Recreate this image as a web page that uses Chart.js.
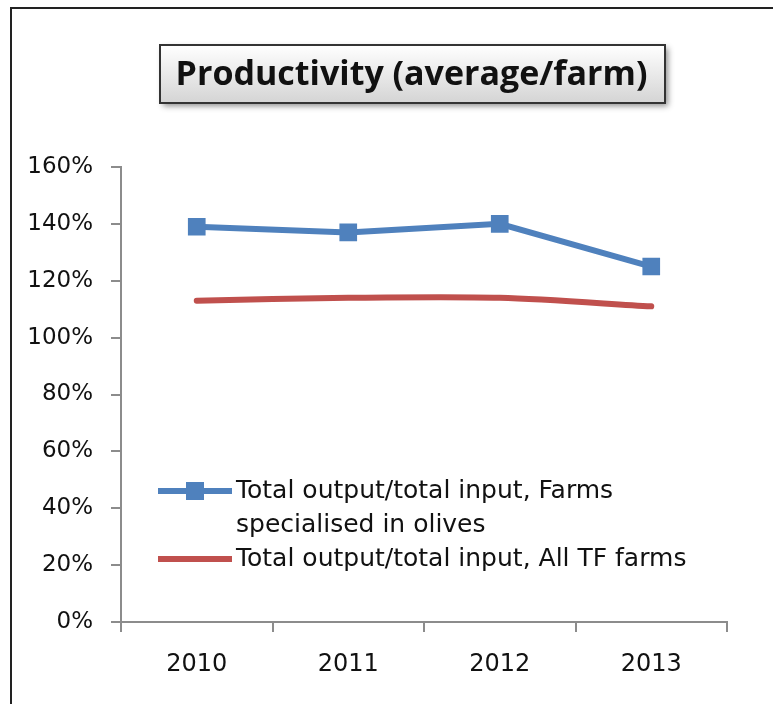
<!DOCTYPE html>
<html><head><meta charset="utf-8">
<script src="https://cdn.jsdelivr.net/npm/chart.js@4"></script>
<style>html,body{margin:0;padding:0;background:#fff}#wrap{position:relative;width:773px;height:704px}</style>
</head><body><div id="wrap"><canvas id="c" width="773" height="704"></canvas></div>
<script>
const categories = ['2010', '2011', '2012', '2013'];
const olivesValues = [139, 137, 140, 125];
const allTFValues = [113, 114, 114, 111];
const seriesLabels = ['Total output/total input, Farms specialised in olives', 'Total output/total input, All TF farms'];
const legendLines = [['Total output/total input, Farms', 'specialised in olives'], ['Total output/total input, All TF farms']];
const yTickValues = [0, 20, 40, 60, 80, 100, 120, 140, 160];
const chartTitle = 'Productivity (average/farm)';

const BLUE = '#4F81BD', RED = '#C0504D', AXIS = '#8C8C8C';
const FONT = '"DejaVu Sans", sans-serif';
const TITLE_FONT = '"Open Sans", sans-serif';

const decor = {
  id: 'decor',
  beforeDraw(chart) {
    const ctx = chart.ctx;
    ctx.save();
    ctx.fillStyle = '#fff';
    ctx.fillRect(0, 0, chart.width, chart.height);
    ctx.strokeStyle = '#222';
    ctx.lineWidth = 2;
    ctx.beginPath();
    ctx.moveTo(11, chart.height);
    ctx.lineTo(11, 8);
    ctx.lineTo(chart.width, 8);
    ctx.stroke();
    const bx = 160, by = 45, bw = 505, bh = 58;
    ctx.shadowColor = 'rgba(0,0,0,0.45)';
    ctx.shadowBlur = 6;
    ctx.shadowOffsetX = 3;
    ctx.shadowOffsetY = 3;
    const g = ctx.createLinearGradient(0, by, 0, by + bh);
    g.addColorStop(0, '#ffffff');
    g.addColorStop(1, '#d4d4d4');
    ctx.fillStyle = g;
    ctx.fillRect(bx, by, bw, bh);
    ctx.shadowColor = 'transparent';
    ctx.strokeStyle = '#333';
    ctx.lineWidth = 2;
    ctx.strokeRect(bx, by, bw, bh);
    ctx.fillStyle = '#111';
    ctx.font = 'bold 34px ' + TITLE_FONT;
    ctx.textAlign = 'center';
    ctx.textBaseline = 'middle';
    ctx.fillText(chartTitle, bx + bw / 2 - 1, by + bh / 2 + 1);
    ctx.restore();
  },
  afterDatasetsDraw(chart) {
    const ctx = chart.ctx;
    ctx.save();
    const items = [
      {y: 491, color: BLUE, marker: true, lines: legendLines[0]},
      {y: 559, color: RED, marker: false, lines: legendLines[1]}
    ];
    ctx.font = '25px ' + FONT;
    ctx.textBaseline = 'middle';
    ctx.textAlign = 'left';
    items.forEach(it => {
      ctx.strokeStyle = it.color;
      ctx.lineWidth = 6;
      ctx.lineCap = 'butt';
      ctx.beginPath();
      ctx.moveTo(158, it.y);
      ctx.lineTo(232, it.y);
      ctx.stroke();
      if (it.marker) {
        ctx.fillStyle = it.color;
        ctx.fillRect(186, it.y - 9, 18, 18);
      }
      ctx.fillStyle = '#111';
      it.lines.forEach((t, i) => ctx.fillText(t, 236, it.y + i * 34));
    });
    ctx.restore();
  }
};

new Chart(document.getElementById('c'), {
  type: 'line',
  data: {
    labels: categories,
    datasets: [
      {label: seriesLabels[0], data: olivesValues, borderColor: BLUE, backgroundColor: BLUE,
       borderWidth: 6, pointStyle: 'rect', pointRadius: 12.5, pointBorderWidth: 0,
       pointBackgroundColor: BLUE, tension: 0},
      {label: seriesLabels[1], data: allTFValues, borderColor: RED, backgroundColor: RED,
       borderWidth: 6, pointRadius: 0, tension: 0.3, borderCapStyle: 'round'}
    ]
  },
  options: {
    responsive: false,
    devicePixelRatio: 1,
    animation: false,
    layout: {padding: {top: 167, left: 0, right: 46, bottom: 0}},
    plugins: {legend: {display: false}, title: {display: false}, tooltip: {enabled: false}},
    scales: {
      x: {
        offset: true,
        grid: {offset: true, drawOnChartArea: false, drawTicks: true, tickLength: 10, color: AXIS, lineWidth: 2},
        border: {display: true, color: AXIS, width: 2},
        ticks: {font: {family: FONT, size: 24}, color: '#111', padding: 18, maxRotation: 0},
        afterFit: s => { s.height = 82; }
      },
      y: {
        min: 0, max: 160,
        afterBuildTicks: s => { s.ticks = yTickValues.map(v => ({value: v})); },
        grid: {drawOnChartArea: false, drawTicks: true, tickLength: 10, color: AXIS, lineWidth: 2},
        border: {display: true, color: AXIS, width: 2},
        ticks: {font: {family: FONT, size: 23}, color: '#111', padding: 18, callback: v => v + '%'},
        afterFit: s => { s.width = 121; }
      }
    }
  },
  plugins: [decor]
});
</script></body></html>
